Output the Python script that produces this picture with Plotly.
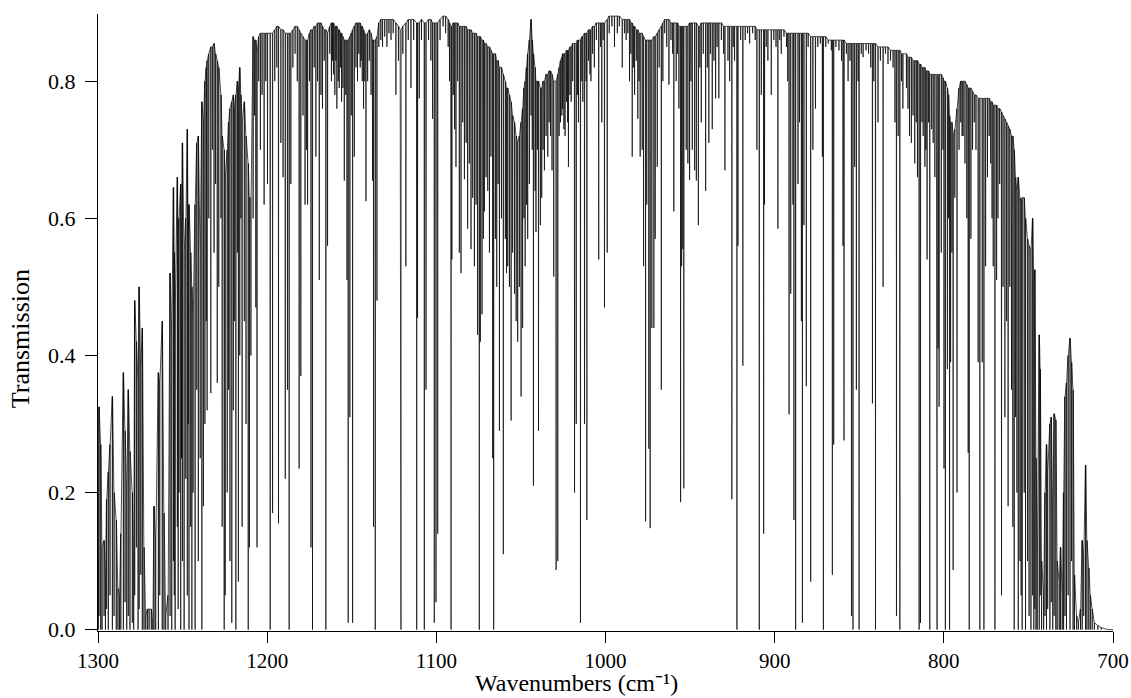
import plotly.graph_objects as go

# Each entry: (wavenumber cm-1, local top transmission, line-centre transmission)
lines_1300_1238 = [
    (1299.8, 0.10, 0.0), (1299.4, 0.325, 0.02), (1298.4, 0.27, 0.0), (1297.6, 0.12, 0.0),
    (1296.4, 0.13, 0.02), (1295.6, 0.08, 0.0), (1294.9, 0.19, 0.03), (1293.9, 0.23, 0.0),
    (1292.9, 0.27, 0.05), (1291.5, 0.34, 0.0), (1290.5, 0.20, 0.02), (1289.2, 0.16, 0.0),
    (1288.2, 0.06, 0.0), (1287.3, 0.05, 0.0), (1286.5, 0.14, 0.0), (1285.0, 0.375, 0.0),
    (1284.0, 0.29, 0.04), (1283.0, 0.20, 0.0), (1282.1, 0.35, 0.02), (1281.1, 0.26, 0.0),
    (1279.7, 0.20, 0.01), (1278.9, 0.10, 0.0), (1278.3, 0.48, 0.05), (1277.3, 0.42, 0.12),
    (1276.3, 0.36, 0.0), (1275.7, 0.50, 0.03), (1274.7, 0.38, 0.08), (1273.8, 0.44, 0.0),
    (1272.8, 0.12, 0.0), (1271.8, 0.02, 0.0), (1270.8, 0.03, 0.0), (1269.8, 0.03, 0.0),
    (1268.5, 0.03, 0.0), (1267.6, 0.01, 0.0), (1266.9, 0.18, 0.0), (1265.9, 0.13, 0.0),
    (1264.3, 0.375, 0.0), (1263.5, 0.36, 0.05), (1262.0, 0.45, 0.0), (1261.0, 0.17, 0.0),
    (1260.0, 0.02, 0.0), (1258.6, 0.05, 0.0), (1257.4, 0.52, 0.02), (1256.4, 0.44, 0.0),
    (1255.4, 0.645, 0.10), (1254.9, 0.55, 0.05), (1254.4, 0.47, 0.0), (1253.1, 0.66, 0.15),
    (1252.6, 0.58, 0.03), (1252.1, 0.60, 0.20), (1251.1, 0.65, 0.0), (1250.6, 0.55, 0.25),
    (1250.1, 0.71, 0.10), (1249.1, 0.55, 0.0), (1248.1, 0.60, 0.22), (1247.2, 0.73, 0.05),
    (1246.7, 0.58, 0.30), (1246.2, 0.62, 0.0), (1245.2, 0.55, 0.15), (1244.5, 0.50, 0.0),
    (1243.8, 0.45, 0.20), (1242.6, 0.62, 0.0), (1241.6, 0.71, 0.35), (1240.7, 0.72, 0.10),
    (1239.6, 0.55, 0.25), (1238.6, 0.77, 0.0), (1237.7, 0.74, 0.18),
]

lines_1237_1178 = [
    (1236.8, 0.80, 0.30), (1236.0, 0.82, 0.45), (1235.5, 0.83, 0.32), (1234.5, 0.84, 0.60),
    (1233.3, 0.85, 0.345), (1232.4, 0.85, 0.70), (1231.4, 0.855, 0.55), (1230.5, 0.84, 0.65),
    (1229.5, 0.83, 0.36), (1228.6, 0.82, 0.50), (1227.3, 0.78, 0.60), (1226.6, 0.72, 0.15),
    (1225.4, 0.70, 0.0), (1224.8, 0.66, 0.05), (1223.6, 0.70, 0.20), (1222.8, 0.74, 0.35),
    (1222.0, 0.76, 0.10), (1220.9, 0.77, 0.01), (1220.0, 0.78, 0.32), (1219.4, 0.76, 0.45),
    (1218.5, 0.78, 0.0), (1217.6, 0.80, 0.55), (1217.0, 0.79, 0.07), (1216.2, 0.82, 0.40),
    (1215.5, 0.78, 0.60), (1214.8, 0.74, 0.15), (1213.5, 0.77, 0.45), (1212.5, 0.72, 0.30),
    (1211.2, 0.68, 0.0), (1210.5, 0.63, 0.12), (1209.6, 0.63, 0.40), (1208.3, 0.865, 0.60),
    (1207.5, 0.86, 0.75), (1206.7, 0.86, 0.47), (1206.0, 0.84, 0.12), (1205.0, 0.865, 0.80),
    (1204.0, 0.87, 0.70), (1203.0, 0.87, 0.78), (1201.8, 0.87, 0.62), (1200.8, 0.87, 0.80),
    (1199.8, 0.87, 0.65), (1198.2, 0.87, 0.0), (1196.8, 0.87, 0.17), (1195.5, 0.875, 0.80),
    (1194.3, 0.88, 0.82), (1193.3, 0.88, 0.155), (1191.9, 0.875, 0.71), (1190.6, 0.875, 0.66),
    (1189.3, 0.87, 0.22), (1188.0, 0.87, 0.35), (1187.0, 0.87, 0.0), (1186.0, 0.87, 0.65),
    (1184.8, 0.875, 0.82), (1183.5, 0.88, 0.84), (1182.2, 0.88, 0.80), (1181.1, 0.875, 0.235),
    (1180.1, 0.87, 0.37), (1178.8, 0.865, 0.75),
]

lines_1178_1114 = [
    (1177.6, 0.86, 0.62), (1176.8, 0.86, 0.70), (1176.1, 0.86, 0.62), (1175.0, 0.87, 0.80),
    (1174.1, 0.875, 0.12), (1173.2, 0.875, 0.0), (1172.2, 0.88, 0.82), (1171.2, 0.88, 0.69),
    (1170.2, 0.885, 0.80), (1169.2, 0.885, 0.51), (1168.2, 0.885, 0.78), (1167.3, 0.88, 0.76),
    (1166.3, 0.875, 0.83), (1165.3, 0.875, 0.0), (1164.3, 0.87, 0.56), (1163.0, 0.88, 0.84),
    (1162.0, 0.885, 0.80), (1161.4, 0.885, 0.83), (1160.8, 0.885, 0.81), (1160.0, 0.88, 0.78),
    (1159.4, 0.88, 0.83), (1158.8, 0.88, 0.76), (1158.0, 0.875, 0.80), (1157.4, 0.875, 0.79),
    (1156.6, 0.87, 0.82), (1156.0, 0.87, 0.77), (1155.2, 0.865, 0.79), (1154.4, 0.86, 0.655),
    (1153.5, 0.86, 0.78), (1152.8, 0.86, 0.51), (1152.1, 0.86, 0.01), (1151.1, 0.865, 0.31),
    (1150.3, 0.87, 0.75), (1149.5, 0.875, 0.01), (1148.5, 0.88, 0.69), (1147.5, 0.885, 0.82),
    (1146.6, 0.885, 0.80), (1145.8, 0.885, 0.84), (1145.0, 0.885, 0.82), (1144.4, 0.88, 0.83),
    (1143.8, 0.88, 0.80), (1143.0, 0.875, 0.76), (1142.3, 0.87, 0.80), (1141.6, 0.865, 0.625),
    (1140.6, 0.87, 0.80), (1139.6, 0.875, 0.83), (1138.6, 0.87, 0.78), (1137.7, 0.86, 0.655),
    (1137.1, 0.86, 0.15), (1136.1, 0.86, 0.0), (1135.1, 0.865, 0.48), (1134.0, 0.885, 0.85),
    (1132.8, 0.89, 0.86), (1131.8, 0.89, 0.85), (1130.5, 0.89, 0.865), (1129.2, 0.89, 0.85),
    (1128.0, 0.89, 0.87), (1126.8, 0.89, 0.86), (1125.5, 0.89, 0.87), (1123.9, 0.885, 0.78),
    (1122.4, 0.88, 0.83), (1121.3, 0.875, 0.15), (1120.9, 0.875, 0.0), (1119.8, 0.88, 0.84),
    (1118.0, 0.885, 0.53), (1116.6, 0.89, 0.86), (1115.0, 0.89, 0.79),
]

lines_1114_1052 = [
    (1113.4, 0.89, 0.86), (1111.6, 0.885, 0.0), (1111.1, 0.885, 0.455), (1110.1, 0.885, 0.775),
    (1108.8, 0.89, 0.86), (1107.1, 0.885, 0.0), (1106.1, 0.885, 0.35), (1104.6, 0.89, 0.86),
    (1103.2, 0.89, 0.83), (1102.2, 0.885, 0.745), (1101.2, 0.885, 0.01), (1100.2, 0.885, 0.04),
    (1099.2, 0.885, 0.14), (1097.8, 0.89, 0.86), (1096.0, 0.895, 0.88), (1094.5, 0.895, 0.87),
    (1093.0, 0.89, 0.85), (1092.2, 0.885, 0.80), (1091.3, 0.88, 0.0), (1090.8, 0.88, 0.54),
    (1090.0, 0.885, 0.78), (1089.2, 0.885, 0.73), (1088.4, 0.885, 0.675), (1087.4, 0.885, 0.80),
    (1086.4, 0.88, 0.55), (1085.4, 0.88, 0.52), (1084.4, 0.88, 0.74), (1083.4, 0.88, 0.657),
    (1082.4, 0.88, 0.71), (1081.5, 0.875, 0.585), (1080.5, 0.875, 0.68), (1079.5, 0.875, 0.555),
    (1078.5, 0.87, 0.63), (1077.5, 0.87, 0.53), (1076.5, 0.87, 0.62), (1075.6, 0.865, 0.43),
    (1074.6, 0.865, 0.0), (1074.0, 0.865, 0.42), (1073.0, 0.86, 0.46), (1072.2, 0.86, 0.57),
    (1071.6, 0.855, 0.61), (1070.6, 0.855, 0.66), (1069.6, 0.85, 0.64), (1068.6, 0.85, 0.55),
    (1067.7, 0.845, 0.69), (1066.7, 0.84, 0.25), (1066.1, 0.84, 0.0), (1065.1, 0.84, 0.57),
    (1064.3, 0.83, 0.50), (1063.5, 0.83, 0.65), (1062.7, 0.82, 0.29), (1061.5, 0.82, 0.60),
    (1060.4, 0.81, 0.11), (1059.2, 0.80, 0.57), (1058.5, 0.79, 0.52), (1057.8, 0.79, 0.53),
    (1056.8, 0.78, 0.50), (1055.8, 0.77, 0.305), (1054.9, 0.75, 0.55), (1053.8, 0.74, 0.49),
    (1052.8, 0.72, 0.45),
]

lines_1052_990 = [
    (1051.9, 0.71, 0.42), (1050.9, 0.72, 0.50), (1049.9, 0.74, 0.34), (1049.0, 0.76, 0.44),
    (1048.2, 0.79, 0.60), (1047.5, 0.80, 0.53), (1046.7, 0.82, 0.62), (1046.0, 0.84, 0.57),
    (1045.0, 0.86, 0.65), (1044.0, 0.89, 0.75), (1043.3, 0.86, 0.70), (1042.6, 0.84, 0.21),
    (1041.6, 0.82, 0.64), (1041.1, 0.80, 0.58), (1040.3, 0.80, 0.70), (1039.6, 0.80, 0.29),
    (1038.5, 0.79, 0.59), (1037.7, 0.79, 0.63), (1036.9, 0.80, 0.70), (1036.1, 0.80, 0.67),
    (1035.1, 0.81, 0.72), (1034.1, 0.81, 0.69), (1033.3, 0.815, 0.74), (1032.5, 0.815, 0.72),
    (1031.6, 0.81, 0.67), (1030.6, 0.80, 0.515), (1029.2, 0.80, 0.087), (1028.2, 0.81, 0.10),
    (1027.4, 0.82, 0.72), (1026.6, 0.83, 0.74), (1025.8, 0.835, 0.75), (1025.3, 0.84, 0.76),
    (1024.6, 0.84, 0.73), (1023.9, 0.84, 0.72), (1023.0, 0.845, 0.77), (1022.4, 0.845, 0.74),
    (1021.9, 0.845, 0.675), (1021.0, 0.85, 0.78), (1020.3, 0.85, 0.77), (1019.4, 0.855, 0.80),
    (1018.3, 0.855, 0.20), (1017.3, 0.855, 0.30), (1016.6, 0.86, 0.78), (1016.0, 0.86, 0.74),
    (1014.8, 0.86, 0.01), (1014.0, 0.865, 0.80), (1013.4, 0.865, 0.77), (1012.4, 0.87, 0.30),
    (1011.5, 0.87, 0.80), (1011.0, 0.87, 0.16), (1010.0, 0.875, 0.83), (1009.2, 0.875, 0.81),
    (1008.6, 0.875, 0.80), (1007.6, 0.88, 0.84), (1006.6, 0.88, 0.82), (1005.4, 0.885, 0.86),
    (1004.0, 0.885, 0.54), (1003.0, 0.885, 0.85), (1002.2, 0.885, 0.74), (1001.4, 0.885, 0.86),
    (1000.6, 0.885, 0.47), (999.0, 0.89, 0.55), (997.8, 0.895, 0.87), (996.2, 0.895, 0.88),
    (994.7, 0.895, 0.85), (993.0, 0.895, 0.87), (991.8, 0.895, 0.88), (990.1, 0.89, 0.82),
]

lines_990_927 = [
    (988.8, 0.89, 0.87), (987.8, 0.89, 0.86), (986.8, 0.89, 0.87), (985.8, 0.89, 0.80),
    (985.0, 0.885, 0.84), (984.2, 0.885, 0.69), (983.5, 0.88, 0.82), (982.8, 0.88, 0.78),
    (981.8, 0.875, 0.83), (980.9, 0.875, 0.745), (980.2, 0.87, 0.80), (979.5, 0.87, 0.69),
    (978.3, 0.87, 0.70), (977.5, 0.865, 0.53), (976.3, 0.86, 0.158), (975.6, 0.86, 0.62),
    (974.4, 0.86, 0.264), (973.6, 0.86, 0.148), (972.6, 0.86, 0.44), (971.4, 0.865, 0.44),
    (970.6, 0.865, 0.57), (969.4, 0.87, 0.675), (968.3, 0.875, 0.82), (967.0, 0.88, 0.35),
    (966.1, 0.885, 0.80), (965.0, 0.89, 0.87), (963.8, 0.89, 0.85), (962.5, 0.89, 0.795),
    (961.3, 0.885, 0.86), (960.3, 0.885, 0.84), (959.6, 0.885, 0.61), (958.2, 0.885, 0.80),
    (957.4, 0.885, 0.84), (956.6, 0.88, 0.76), (955.6, 0.88, 0.186), (955.0, 0.88, 0.53),
    (954.3, 0.88, 0.555), (953.7, 0.88, 0.206), (952.3, 0.88, 0.70), (951.3, 0.88, 0.68),
    (950.3, 0.885, 0.656), (949.5, 0.885, 0.80), (948.7, 0.885, 0.70), (947.3, 0.885, 0.67),
    (946.3, 0.885, 0.655), (945.1, 0.88, 0.59), (944.2, 0.88, 0.82), (943.4, 0.885, 0.74),
    (942.2, 0.885, 0.84), (940.8, 0.885, 0.64), (939.8, 0.885, 0.82), (938.9, 0.885, 0.71),
    (938.0, 0.885, 0.84), (936.9, 0.885, 0.73), (935.9, 0.885, 0.83), (934.9, 0.885, 0.775),
    (934.0, 0.885, 0.85), (933.0, 0.885, 0.775), (931.5, 0.885, 0.86), (930.2, 0.88, 0.84),
    (929.4, 0.88, 0.67), (927.6, 0.88, 0.83),
]

lines_927_866 = [
    (926.6, 0.88, 0.80), (925.3, 0.88, 0.19), (924.5, 0.88, 0.85), (923.7, 0.88, 0.83),
    (922.3, 0.88, 0.0), (921.7, 0.88, 0.56), (920.1, 0.88, 0.86), (918.8, 0.88, 0.385),
    (917.4, 0.88, 0.86), (916.0, 0.88, 0.87), (914.8, 0.88, 0.855), (913.0, 0.88, 0.87),
    (911.5, 0.88, 0.86), (910.5, 0.875, 0.70), (909.1, 0.875, 0.0), (907.9, 0.875, 0.78),
    (906.5, 0.875, 0.14), (906.0, 0.875, 0.62), (905.0, 0.875, 0.85), (904.0, 0.875, 0.83),
    (902.0, 0.875, 0.78), (900.5, 0.875, 0.86), (899.2, 0.875, 0.85), (898.1, 0.875, 0.585),
    (897.0, 0.875, 0.86), (896.1, 0.875, 0.84), (894.5, 0.875, 0.865), (893.0, 0.87, 0.85),
    (892.3, 0.87, 0.80), (891.5, 0.87, 0.314), (890.5, 0.87, 0.49), (889.2, 0.87, 0.62),
    (888.6, 0.87, 0.16), (887.6, 0.87, 0.0), (886.2, 0.87, 0.65), (885.3, 0.87, 0.74),
    (884.2, 0.87, 0.45), (883.6, 0.87, 0.01), (882.7, 0.87, 0.59), (881.3, 0.87, 0.355),
    (880.2, 0.87, 0.85), (878.7, 0.865, 0.07), (877.4, 0.865, 0.70), (875.9, 0.865, 0.76),
    (874.5, 0.865, 0.85), (873.0, 0.865, 0.855), (871.8, 0.865, 0.69), (871.2, 0.865, 0.0),
    (869.8, 0.865, 0.85), (868.3, 0.86, 0.855), (866.5, 0.86, 0.845),
]

lines_866_803 = [
    (865.9, 0.86, 0.08), (865.1, 0.86, 0.27), (863.8, 0.86, 0.85), (862.0, 0.86, 0.845),
    (860.5, 0.86, 0.83), (859.6, 0.86, 0.56), (859.0, 0.86, 0.276), (857.6, 0.855, 0.84),
    (856.6, 0.855, 0.80), (855.5, 0.855, 0.83), (854.6, 0.855, 0.02), (853.7, 0.855, 0.0),
    (852.7, 0.855, 0.675), (851.7, 0.855, 0.35), (850.7, 0.855, 0.80), (850.1, 0.855, 0.0),
    (848.8, 0.855, 0.84), (847.7, 0.855, 0.835), (846.0, 0.855, 0.845), (844.5, 0.855, 0.84),
    (843.2, 0.855, 0.82), (842.2, 0.855, 0.33), (841.4, 0.855, 0.80), (840.4, 0.855, 0.0),
    (838.9, 0.85, 0.74), (837.5, 0.85, 0.83), (835.9, 0.85, 0.50), (834.5, 0.85, 0.84),
    (833.0, 0.85, 0.825), (831.5, 0.845, 0.83), (830.0, 0.845, 0.82), (828.9, 0.845, 0.74),
    (828.0, 0.845, 0.02), (827.0, 0.845, 0.72), (826.0, 0.845, 0.0), (825.0, 0.84, 0.80),
    (824.2, 0.84, 0.76), (822.1, 0.84, 0.79), (821.2, 0.835, 0.76), (820.3, 0.835, 0.72),
    (819.2, 0.835, 0.71), (818.2, 0.83, 0.75), (817.2, 0.83, 0.68), (816.3, 0.83, 0.74),
    (815.6, 0.83, 0.66), (814.6, 0.825, 0.0), (813.8, 0.825, 0.01), (812.9, 0.82, 0.74),
    (812.2, 0.82, 0.72), (811.2, 0.82, 0.675), (810.6, 0.815, 0.70), (809.9, 0.815, 0.54),
    (809.0, 0.815, 0.74), (808.3, 0.81, 0.0), (807.2, 0.81, 0.73), (806.3, 0.81, 0.71),
    (805.3, 0.81, 0.66), (804.3, 0.81, 0.45), (804.0, 0.81, 0.0), (803.4, 0.81, 0.41),
]

lines_803_748 = [
    (802.8, 0.81, 0.325), (801.5, 0.81, 0.55), (800.5, 0.805, 0.70), (799.9, 0.80, 0.235),
    (799.1, 0.80, 0.0), (797.9, 0.79, 0.38), (797.2, 0.78, 0.60), (796.6, 0.75, 0.0),
    (796.0, 0.74, 0.39), (795.2, 0.74, 0.55), (794.5, 0.72, 0.087), (793.5, 0.73, 0.63),
    (792.2, 0.76, 0.20), (791.0, 0.79, 0.70), (790.0, 0.80, 0.74), (789.2, 0.80, 0.72),
    (788.6, 0.80, 0.72), (787.5, 0.80, 0.68), (786.4, 0.795, 0.60), (785.6, 0.79, 0.258),
    (785.0, 0.79, 0.0), (784.0, 0.79, 0.57), (783.0, 0.785, 0.70), (782.0, 0.78, 0.74),
    (781.0, 0.78, 0.70), (779.7, 0.775, 0.39), (778.7, 0.775, 0.0), (777.3, 0.775, 0.39),
    (776.3, 0.775, 0.0), (775.3, 0.775, 0.53), (774.2, 0.775, 0.66), (773.2, 0.775, 0.72),
    (772.3, 0.77, 0.68), (771.5, 0.77, 0.60), (770.8, 0.765, 0.53), (769.8, 0.765, 0.0),
    (768.8, 0.765, 0.51), (768.0, 0.76, 0.60), (767.0, 0.76, 0.65), (765.9, 0.755, 0.05),
    (765.0, 0.75, 0.50), (763.9, 0.745, 0.31), (762.9, 0.74, 0.45), (762.0, 0.735, 0.18),
    (761.0, 0.73, 0.50), (760.0, 0.72, 0.35), (759.2, 0.72, 0.15), (758.4, 0.70, 0.0),
    (757.6, 0.66, 0.31), (756.8, 0.64, 0.20), (756.0, 0.66, 0.0), (755.0, 0.63, 0.10),
    (754.3, 0.62, 0.05), (753.7, 0.63, 0.0), (752.5, 0.63, 0.20), (751.7, 0.60, 0.0),
    (750.5, 0.57, 0.10), (749.6, 0.56, 0.02), (748.5, 0.555, 0.0),
]

lines_748_700 = [
    (747.5, 0.60, 0.05), (746.8, 0.50, 0.0), (746.2, 0.525, 0.03), (745.5, 0.25, 0.0),
    (744.8, 0.10, 0.0), (743.6, 0.43, 0.0), (743.0, 0.38, 0.05), (742.2, 0.10, 0.0),
    (741.0, 0.05, 0.0), (740.2, 0.20, 0.02), (739.3, 0.27, 0.0), (738.6, 0.23, 0.03),
    (737.3, 0.30, 0.0), (736.5, 0.31, 0.04), (735.6, 0.17, 0.0), (734.8, 0.315, 0.02),
    (733.8, 0.306, 0.0), (733.0, 0.10, 0.0), (731.8, 0.07, 0.0), (731.0, 0.12, 0.0),
    (730.0, 0.05, 0.0), (729.2, 0.20, 0.0), (728.4, 0.34, 0.02), (727.5, 0.36, 0.0),
    (726.5, 0.40, 0.05), (725.4, 0.425, 0.0), (724.5, 0.39, 0.10), (723.6, 0.35, 0.0),
    (722.8, 0.08, 0.0), (721.5, 0.02, 0.0), (720.5, 0.01, 0.0), (719.2, 0.03, 0.0),
    (718.2, 0.13, 0.0), (717.3, 0.11, 0.02), (716.2, 0.24, 0.0), (715.4, 0.13, 0.0),
    (714.3, 0.09, 0.0), (713.4, 0.05, 0.0), (712.3, 0.03, 0.0), (711.0, 0.01, 0.0),
    (709.0, 0.006, 0.0), (707.0, 0.003, 0.0), (703.0, 0.0, 0.0), (700.0, 0.0, 0.0),
]

x_ticks = [1300, 1200, 1100, 1000, 900, 800, 700]
y_ticks = [0.0, 0.2, 0.4, 0.6, 0.8]
x_title = "Wavenumbers (cm\u207b\u00b9)"
y_title = "Transmission"

all_lines = sorted(
    lines_1300_1238 + lines_1237_1178 + lines_1178_1114 + lines_1114_1052
    + lines_1052_990 + lines_990_927 + lines_927_866 + lines_866_803
    + lines_803_748 + lines_748_700,
    key=lambda r: -r[0],
)

HALF = 0.1  # half-width of each drawn absorption line (cm-1), styling only
xs, ys = [], []
for wn, top, mn in all_lines:
    xs += [wn + HALF, wn, wn - HALF]
    ys += [top, mn, top]

FONT = "Liberation Serif, Times New Roman, serif"

fig = go.Figure(
    go.Scatter(x=xs, y=ys, mode="lines", line=dict(color="black", width=0.7),
               hoverinfo="skip", showlegend=False)
)
fig.update_layout(
    width=1131, height=698,
    margin=dict(l=98, r=18, t=14, b=67),
    paper_bgcolor="white", plot_bgcolor="white",
    font=dict(family=FONT, size=22, color="black"),
    annotations=[
        dict(text=x_title, xref="paper", yref="paper", x=0.471, y=-0.1086,
             xanchor="center", yanchor="bottom", showarrow=False,
             font=dict(family=FONT, size=24, color="black")),
        dict(text=y_title, xref="paper", yref="paper", x=-0.0768, y=0.473,
             xanchor="center", yanchor="middle", showarrow=False, textangle=-90,
             font=dict(family=FONT, size=26, color="black")),
    ],
)
fig.update_xaxes(
    range=[1300, 700], tickvals=x_ticks, ticktext=[str(v) for v in x_ticks],
    ticks="outside", ticklen=11, tickwidth=1, tickcolor="black",
    showline=True, linecolor="black", linewidth=1, showgrid=False, zeroline=False,
    tickfont=dict(size=21), automargin=False,
)
fig.update_yaxes(
    range=[-0.002, 0.898], tickvals=y_ticks, ticktext=[f"{v:.1f}" for v in y_ticks],
    ticks="outside", ticklen=12, tickwidth=1, tickcolor="black",
    showline=True, linecolor="black", linewidth=1, showgrid=False, zeroline=False,
    tickfont=dict(size=22), automargin=False, ticklabelstandoff=5,
)
fig.write_html("out.html")
